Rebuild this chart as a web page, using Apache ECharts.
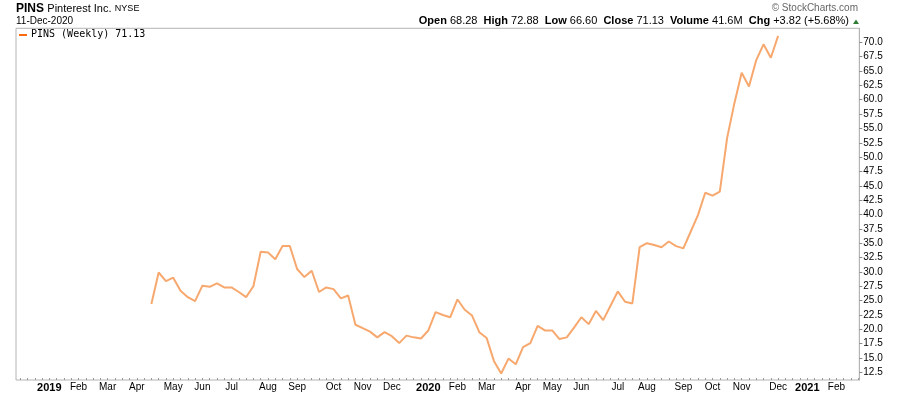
<!DOCTYPE html>
<html>
<head>
<meta charset="utf-8">
<script src="https://cdn.jsdelivr.net/npm/echarts@6/dist/echarts.min.js"></script>
<style>
html,body{margin:0;padding:0;background:#fff;}
#chart{width:900px;height:396px;}
</style>
</head>
<body>
<div id="chart"></div>
<script>
// Week index 0 = week of Mon 31-Dec-2018
const firstWeek = 15; // IPO week (Apr 2019)
const closes = [
  24.4, 29.9, 28.4, 29.0, 26.7, 25.6, 24.9, 27.6, 27.4, 28.0,
  27.3, 27.3, 26.5, 25.6, 27.5, 33.5, 33.4, 32.2, 34.5, 34.5,
  30.5, 29.1, 30.2, 26.5, 27.3, 27.0, 25.4, 25.9, 20.8, 20.2,
  19.6, 18.6, 19.5, 18.8, 17.6, 18.9, 18.6, 18.4, 19.8, 23.0,
  22.5, 22.1, 25.2, 23.4, 22.4, 19.5, 18.5, 14.5, 12.3, 14.9,
  13.9, 16.9, 17.6, 20.6, 19.8, 19.8, 18.3, 18.6, 20.3, 22.1,
  20.9, 23.2, 21.6, 24.1, 26.6, 24.8, 24.5, 34.3, 35.0, 34.7,
  34.3, 35.3, 34.5, 34.1, 37.0, 39.9, 43.8, 43.3, 44.0, 53.3,
  59.4, 64.7, 62.3, 66.9, 69.65, 67.31, 71.13
];
const monthWeeks  = [1, 5, 9, 13, 18, 22, 26, 31, 35, 40, 44, 48, 53, 57, 61, 66, 70, 74, 79, 83, 88, 92, 96, 101, 105, 109];
const monthLabels = ['2019','Feb','Mar','Apr','May','Jun','Jul','Aug','Sep','Oct','Nov','Dec','2020','Feb','Mar','Apr','May','Jun','Jul','Aug','Sep','Oct','Nov','Dec','2021','Feb'];
const yTicks = [12.5,15,17.5,20,22.5,25,27.5,30,32.5,35,37.5,40,42.5,45,47.5,50,52.5,55,57.5,60,62.5,65,67.5,70];
const weekTicks = [];
for (let w = -3; w <= 112; w++) weekTicks.push(w);

const seriesData = closes.map((v, i) => [firstWeek + i, v]);
const lastClose = closes[closes.length - 1];

const chart = echarts.init(document.getElementById('chart'), null, {renderer: 'canvas'});
const F = 'Arial, "Liberation Sans", sans-serif';

chart.setOption({
  animation: false,
  backgroundColor: '#fff',
  grid: {
    left: 16, right: 40.7, top: 28.3, bottom: 16,
    show: true, borderColor: '#b4b4b4', borderWidth: 1, backgroundColor: 'transparent'
  },
  xAxis: {
    type: 'value',
    min: -3.575, max: 112.14,
    splitLine: {show: false},
    axisLine: {show: false, onZero: false},
    axisTick: {show: true, inside: true, length: 2, customValues: weekTicks, lineStyle: {color: '#999'}},
    axisLabel: {
      customValues: monthWeeks,
      margin: 2,
      fontFamily: F, fontSize: 10, color: '#000',
      formatter: function (v) {
        const k = monthWeeks.indexOf(Math.round(v));
        if (k < 0) return '';
        const s = monthLabels[k];
        return /^\d{4}$/.test(s) ? '{y|' + s + '}' : s;
      },
      rich: {y: {fontFamily: F, fontSize: 11, fontWeight: 'bold', color: '#000'}}
    }
  },
  yAxis: {
    type: 'value',
    position: 'right',
    min: 11.17, max: 72.44,
    splitLine: {show: false},
    axisLine: {show: true, onZero: false, lineStyle: {color: '#b4b4b4'}},
    axisTick: {show: true, length: 3, customValues: yTicks, lineStyle: {color: '#888'}},
    axisLabel: {
      customValues: yTicks,
      margin: 4,
      fontFamily: F, fontSize: 10, color: '#000',
      formatter: v => v.toFixed(1)
    }
  },
  series: [{
    type: 'line',
    data: seriesData,
    showSymbol: false,
    symbol: 'none',
    lineStyle: {color: '#f7a86e', width: 2},
    z: 3
  }],
  graphic: [
    {type: 'text', left: 16, top: 3, style: {
      text: '{a|PINS} {b|Pinterest Inc.} {c|NYSE}',
      rich: {
        a: {fontFamily: F, fontSize: 12, fontWeight: 'bold', fill: '#000'},
        b: {fontFamily: F, fontSize: 11, fill: '#000'},
        c: {fontFamily: F, fontSize: 9, fill: '#000'}
      }
    }},
    {type: 'text', left: 16, top: 16, style: {text: '11-Dec-2020', fontFamily: F, fontSize: 10, fill: '#000'}},
    {type: 'line', shape: {x1: 19, y1: 35, x2: 27, y2: 35}, style: {stroke: '#ff6a10', lineWidth: 2}},
    {type: 'text', left: 31, top: 29, style: {text: 'PINS (Weekly) ' + lastClose.toFixed(2), fontFamily: '"DejaVu Sans Mono", monospace', fontSize: 10, fill: '#000'}},
    {type: 'text', right: 42, top: 3, style: {text: '\u00A9 StockCharts.com', fontFamily: F, fontSize: 10, fill: '#666'}},
    {type: 'text', right: 51, top: 15, style: {
      text: '{l|Open} 68.28  {l|High} 72.88  {l|Low} 66.60  {l|Close} 71.13  {l|Volume} 41.6M  {l|Chg} +3.82 (+5.68%)',
      fontFamily: F, fontSize: 11, fill: '#000',
      rich: {l: {fontFamily: F, fontSize: 11, fontWeight: 'bold', fill: '#000'}}
    }},
    {type: 'polygon', shape: {points: [[853, 24], [859, 24], [856, 19.5]]}, style: {fill: '#2e7d32'}}
  ]
});
</script>
</body>
</html>
